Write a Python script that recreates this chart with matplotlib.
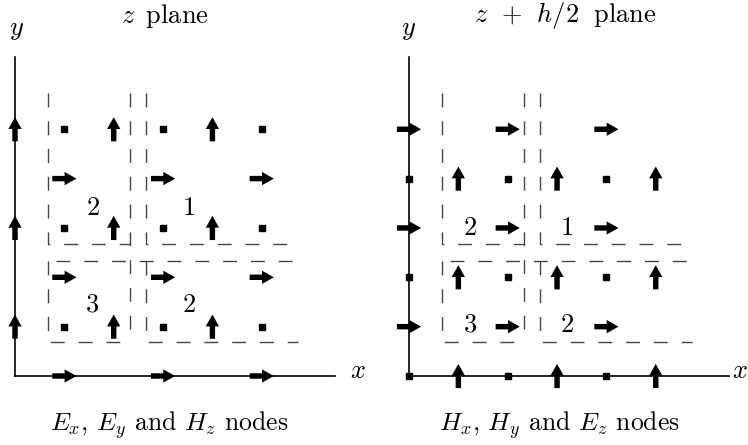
import matplotlib
matplotlib.use("Agg")
import matplotlib.pyplot as plt

plt.rcParams['mathtext.fontset'] = 'cm'
plt.rcParams['font.family'] = 'serif'
plt.rcParams['font.serif'] = ['cmr10', 'DejaVu Serif']
plt.rcParams['lines.scale_dashes'] = False

# ---- data (grid units h) ----
# z plane
ex_x = [0.5, 1.5, 2.5]; ex_y = [0, 1, 2]          # E_x (right arrows)
ey_x = [0, 1, 2];       ey_y = [0.5, 1.5, 2.5]    # E_y (up arrows)
hz_x = [0.5, 1.5, 2.5]; hz_y = [0.5, 1.5, 2.5]    # H_z (squares)
# z + h/2 plane
hx_x = [0, 1, 2];       hx_y = [0.5, 1.5, 2.5]    # H_x (right arrows)
hy_x = [0.5, 1.5, 2.5]; hy_y = [0, 1, 2]          # H_y (up arrows)
ez_x = [0, 1, 2];       ez_y = [0, 1, 2]          # E_z (squares)

region_labels = ['2', '1', '3', '2']
left_region_pos = [(0.79, 1.70), (1.77, 1.70), (0.79, 0.72), (1.77, 0.72)]
right_region_pos = [(0.62, 1.50), (1.60, 1.50), (0.62, 0.52), (1.60, 0.52)]

titles = [r'$z\,$ plane', r'$z\;\,+\;\,h/2\;$ plane']
captions = [r'$E_x$, $E_y$ and $H_z$ nodes', r'$H_x$, $H_y$ and $E_z$ nodes']

# dashed partition lines
a, b, c, top, r = 0.335, 1.165, 1.33, 2.87, 2.87
yl, ym, yb = 1.34, 1.165, 0.345
dash_paths = [
    ([a, a, b], [top, yl, yl]),
    ([b, b], [top, yb]),
    ([c, c, r], [top, yl, yl]),
    ([a + 0.08, r], [ym, ym]),
    ([a, a, b], [ym, yb, yb]),
    ([c, c, r], [ym, yb, yb]),
]

S = 98.7  # px per unit
W, H = 748, 445
fig = plt.figure(figsize=(W / 100, H / 100), dpi=100)

L = 0.245; hw = 0.135; hl = 0.12; sw = 0.055


def arrow(ax, x, y, dx, dy):
    ax.arrow(x - dx * L / 2, y - dy * L / 2, dx * L, dy * L, width=sw,
             head_width=hw, head_length=hl, length_includes_head=True,
             color='black', zorder=5, lw=0)


def panel(pos, ox_px, right_x, rx, ry, ux, uy, sx, sy, rpos, title, tpos,
          caption, cpos, ylab, xlab):
    ax = fig.add_axes(pos)
    ax.set_xlim(-ox_px / S, (374 - ox_px) / S)
    ax.set_ylim(-(H - 376) / S, 376 / S)
    ax.set_aspect('equal')
    ax.axis('off')
    ax.plot([0, 0], [0, 3.23], color='black', lw=1.2, zorder=3)
    ax.plot([0, right_x], [0, 0], color='black', lw=1.2, zorder=3)
    for xs, ys in dash_paths:
        ax.plot(xs, ys, color='#444444', lw=1.0, linestyle=(0, (10, 10)),
                zorder=2)
    for x in rx:
        for y in ry:
            arrow(ax, x, y, 1, 0)
    for x in ux:
        for y in uy:
            arrow(ax, x, y, 0, 1)
    xs = [x for x in sx for y in sy]
    ys = [y for x in sx for y in sy]
    ax.plot(xs, ys, 's', color='black', ms=5.0, zorder=6, lw=0)
    for t, (x, y) in zip(region_labels, rpos):
        ax.text(x, y, t, fontsize=19, ha='center', va='center')
    ax.text(tpos[0], tpos[1], title, fontsize=19, ha='center', va='center')
    ax.text(cpos[0], cpos[1], caption, fontsize=18.5, ha='center', va='center')
    ax.text(ylab[0], ylab[1], r'$y$', fontsize=19, ha='center', va='center')
    ax.text(xlab[0], xlab[1], r'$x$', fontsize=19, ha='center', va='center')
    return ax


panel([0, 0, 0.5, 1], 15, 3.24, ex_x, ex_y, ey_x, ey_y, hz_x, hz_y,
      left_region_pos, titles[0], (1.52, 3.65), captions[0], (1.565, -0.5),
      (0.02, 3.50), (3.475, 0.05))
panel([0.5, 0, 0.5, 1], 35, 3.24, hx_x, hx_y, hy_x, hy_y, ez_x, ez_y,
      right_region_pos, titles[1], (1.585, 3.65), captions[1], (1.52, -0.5),
      (0.0, 3.50), (3.35, 0.05))

fig.savefig('out.png', dpi=100)
